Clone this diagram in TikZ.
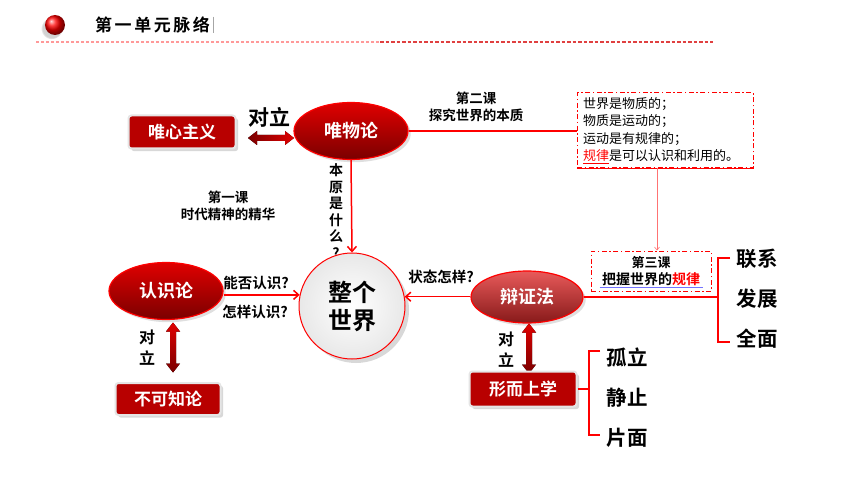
\documentclass[tikz,border=0pt]{standalone}
\usepackage{fontspec}
\setmainfont{Noto Sans CJK SC}[BoldFont={Noto Sans CJK SC Bold}]
\usetikzlibrary{shapes.geometric, positioning, arrows.meta, shadows}
\definecolor{KeyRed}{HTML}{E00000}
\definecolor{DeepRed}{HTML}{B80000}
\definecolor{DarkRed}{HTML}{7A0000}
\definecolor{LineRed}{HTML}{FF0000}
\definecolor{DiaTop}{HTML}{E85A5A}
\definecolor{RuleRed}{HTML}{E04040}

\begin{document}
\begin{tikzpicture}[x=1pt, y=-1pt,
    ellbox/.style={ellipse, draw=LineRed, line width=1.2pt, top color=KeyRed, bottom color=DarkRed,
        text=white, font=\fontsize{18}{20}\selectfont\bfseries, minimum width=114pt,
        minimum height=57pt, inner sep=0pt, drop shadow={opacity=0.25}},
    rectbox/.style={rounded corners=3pt, fill=DeepRed, draw=gray!20, line width=2pt, text=white,
        font=\fontsize{17}{20}\selectfont\bfseries, minimum width=107pt, minimum height=33pt,
        inner sep=0pt, drop shadow={opacity=0.3}},
    lbl/.style={font=\fontsize{13.5}{17}\selectfont\bfseries, inner sep=0pt, align=center},
    bigword/.style={font=\fontsize{20.5}{24}\selectfont\bfseries, inner sep=0pt},
    link/.style={draw=LineRed, line width=1.5pt},
    arr/.style={link, -{Straight Barb[length=5pt, width=9pt]}},
    dashbox/.style={draw=LineRed, dash pattern=on 5pt off 2.5pt on 1.5pt off 2.5pt, line width=1pt},
    hdbl/.pic={\fill[left color=DarkRed, right color=KeyRed] (-23,0) -- (-14,-7) -- (-14,-3)
        -- (14,-3) -- (14,-7) -- (23,0) -- (14,7) -- (14,3) -- (-14,3) -- (-14,7) -- cycle;},
    vdbl/.pic={\fill[top color=KeyRed, bottom color=DarkRed] (0,-25) -- (7,-16) -- (3,-16)
        -- (3,16) -- (7,16) -- (0,25) -- (-7,16) -- (-3,16) -- (-3,-16) -- (-7,-16) -- cycle;}]
    \useasboundingbox (0,0) rectangle (860,484);
    \fill[white] (0,0) rectangle (860,484);

    % Header
    \node[circle, ball color=red, minimum size=20pt, inner sep=0pt,
        circular drop shadow={shadow xshift=-3pt, shadow yshift=-3pt, opacity=0.35}] (dot) at (55,25) {};
    \node[anchor=west, inner sep=0pt, font=\fontsize{17}{20}\selectfont\bfseries\addfontfeature{LetterSpace=15}]
        (title) at (95,25) {第一单元脉络};
    \draw[gray!70, line width=1pt] ([xshift=3pt]title.north east) -- ([xshift=3pt]title.south east);
    \draw[red!40, dash pattern=on 3pt off 2pt, line width=1.3pt] (36,42) -- (380,42);
    \draw[RuleRed, dash pattern=on 3.5pt off 2pt, line width=1.3pt] (380,42) -- (713,42);

    % Lesson one: materialism
    \node[rectbox] (idl) at (182,132) {唯心主义};
    \node[ellbox] (mat) at (351,131) {唯物论};
    \node[font=\fontsize{21}{24}\selectfont\bfseries, inner sep=0pt] (opp1) at (269,117) {对立};
    \pic at (271,138) {hdbl};
    \node[lbl] (les1) at (228,206) {第一课\\时代精神的精华};
    \node[lbl, font=\fontsize{14}{16.5}\selectfont\bfseries] (ask1) at (336,211) {本\\原\\是\\什\\么\\?};

    % Lesson two
    \node[lbl] (les2) at (476,107) {第二课\\探究世界的本质};
    \node[dashbox, minimum width=176pt, minimum height=75pt, text width=164pt, inner xsep=6pt,
        align=left, font=\fontsize{13}{17.5}\selectfont] (facts) at (665,130.5)
        {世界是物质的；\\物质是运动的；\\运动是有规律的；\\\textcolor{red}{\underline{规律}}是可以认识和利用的。};
    \draw[link, line width=1.2pt] (facts.south west) -- (facts.south east);
    \draw[link] (mat.east) -- (mat.east -| facts.west);

    % Whole world
    \node[circle, draw=LineRed, line width=1pt, inner color=white, outer color=gray!18,
        minimum size=106pt, inner sep=0pt, align=center, font=\fontsize{24}{28}\selectfont\bfseries,
        drop shadow={shadow xshift=4pt, shadow yshift=-4pt, opacity=0.3}] (world) at (352,306) {整个\\世界};
    \draw[arr] (mat.south) -- (world.north);

    % Epistemology
    \node[ellbox] (know) at (166,291) {认识论};
    \node[lbl, font=\fontsize{14.5}{17}\selectfont\bfseries] (ask2) at (256,283) {能否认识?};
    \node[lbl, font=\fontsize{14.5}{17}\selectfont\bfseries] (ask3) at (255,312) {怎样认识?};
    \draw[arr] (know.east |- world.168) -- (world.168);
    \node[lbl, font=\fontsize{16}{21}\selectfont\bfseries] (opp2) at (147,347.5) {对\\立};
    \pic at (173,347.5) {vdbl};
    \node[rectbox, minimum width=105pt, minimum height=32pt] (agn) at (168,399) {不可知论};

    % Lesson three: dialectics
    \node[ellbox, top color=DiaTop, bottom color=DarkRed!90, minimum width=112pt,
        minimum height=52pt] (dia) at (527,297) {辩证法};
    \node[lbl, font=\fontsize{14.5}{17}\selectfont\bfseries] (ask4) at (441,277) {状态怎样?};
    \draw[arr] (dia.west |- world.10) -- (world.10);
    \node[dashbox, minimum width=120pt, minimum height=40pt, inner sep=0pt, align=center,
        font=\fontsize{13}{16.5}\selectfont\bfseries] (les3) at (651,271)
        {第三课\\\fontsize{14}{16.5}\selectfont 把握世界的\textcolor{red}{规律}};
    \draw[blue!55, line width=0.6pt] ([xshift=9pt, yshift=4pt]les3.south west) -- ([xshift=-9pt, yshift=4pt]les3.south east);
    \draw[draw=LineRed!55, line width=0.6pt, -{Straight Barb[length=3pt, width=5pt]}]
        ([xshift=6pt]les3.north |- facts.south) -- ([xshift=6pt]les3.north);
    \node[lbl, font=\fontsize{16}{21}\selectfont\bfseries] (opp3) at (506,349.5) {对\\立};
    \pic at (529,348.5) {vdbl};
    \node[rectbox, minimum height=35pt] (meta) at (523,389) {形而上学};

    % Brackets
    \coordinate (brR) at (718,300);
    \draw[link] (dia.east) -- (dia.east -| brR);
    \draw[link] (730,258) -- (718,258) -- (718,342) -- (730,342);
    \foreach \w [count=\i] in {联系,发展,全面}
        \node[bigword] (pro\i) at (757,{219+40*\i}) {\w};
    \coordinate (brM) at (589,390);
    \draw[link] (meta.east) -- (meta.east -| brM);
    \draw[link] (600,351) -- (589,351) -- (589,435) -- (600,435);
    \foreach \w [count=\i] in {孤立,静止,片面}
        \node[bigword] (con\i) at (627,{318+40*\i}) {\w};
\end{tikzpicture}
\end{document}
